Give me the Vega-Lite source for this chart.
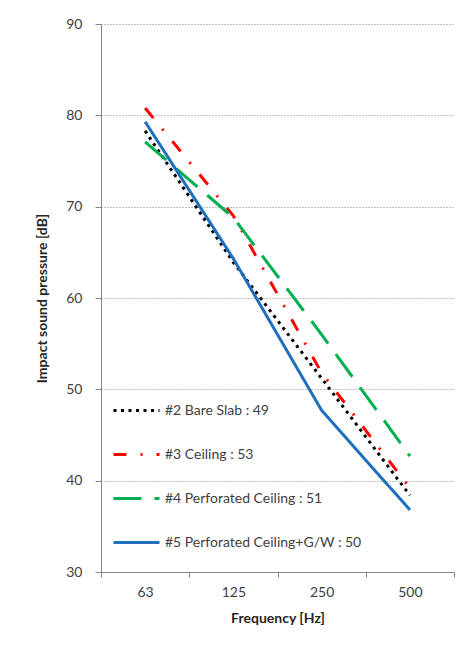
{
  "$schema": "https://vega.github.io/schema/vega-lite/v6.json",
  "autosize": {"type": "none"},
  "width": 353,
  "height": 548,
  "padding": {"left": 101, "top": 24, "right": 14, "bottom": 76},
  "background": "white",
  "data": {
    "values": [
      {"series": "#2 Bare Slab : 49", "freq": "63", "value": 78.3},
      {"series": "#2 Bare Slab : 49", "freq": "125", "value": 63.9},
      {"series": "#2 Bare Slab : 49", "freq": "250", "value": 51.2},
      {"series": "#2 Bare Slab : 49", "freq": "500", "value": 38.4},
      {"series": "#3 Ceiling : 53", "freq": "63", "value": 80.8},
      {"series": "#3 Ceiling : 53", "freq": "125", "value": 69.0},
      {"series": "#3 Ceiling : 53", "freq": "250", "value": 51.8},
      {"series": "#3 Ceiling : 53", "freq": "500", "value": 39.2},
      {"series": "#4 Perforated Ceiling : 51", "freq": "63", "value": 77.1},
      {"series": "#4 Perforated Ceiling : 51", "freq": "125", "value": 68.8},
      {"series": "#4 Perforated Ceiling : 51", "freq": "250", "value": 56.0},
      {"series": "#4 Perforated Ceiling : 51", "freq": "500", "value": 42.7},
      {"series": "#5 Perforated Ceiling+G/W : 50", "freq": "63", "value": 79.3},
      {"series": "#5 Perforated Ceiling+G/W : 50", "freq": "125", "value": 64.3},
      {"series": "#5 Perforated Ceiling+G/W : 50", "freq": "250", "value": 47.7},
      {"series": "#5 Perforated Ceiling+G/W : 50", "freq": "500", "value": 36.8}
    ]
  },
  "mark": {"type": "line", "strokeWidth": 3},
  "encoding": {
    "x": {
      "field": "freq",
      "type": "ordinal",
      "sort": ["63", "125", "250", "500"],
      "scale": {"type": "band", "paddingInner": 0, "paddingOuter": 0},
      "axis": {
        "title": "Frequency [Hz]",
        "labelAngle": 0,
        "tickBand": "extent",
        "tickSize": 5,
        "labelPadding": 8,
        "titlePadding": 12,
        "grid": false
      }
    },
    "y": {
      "field": "value",
      "type": "quantitative",
      "scale": {"domain": [30, 90], "nice": false, "zero": false},
      "axis": {
        "title": "Impact sound pressure [dB]",
        "values": [30, 40, 50, 60, 70, 80, 90],
        "tickSize": 6,
        "labelPadding": 13,
        "titlePadding": 16,
        "grid": true,
        "gridColor": "#7f7f7f",
        "gridDash": [1, 2],
        "gridWidth": 1
      }
    },
    "color": {
      "field": "series",
      "type": "nominal",
      "scale": {
        "domain": ["#2 Bare Slab : 49", "#3 Ceiling : 53", "#4 Perforated Ceiling : 51", "#5 Perforated Ceiling+G/W : 50"],
        "range": ["#000000", "#ff0000", "#00b050", "#1f6fbf"]
      },
      "legend": {
        "title": null,
        "orient": "none",
        "legendX": 11,
        "legendY": 362,
        "symbolType": "stroke",
        "symbolSize": 2116,
        "symbolStrokeWidth": 3,
        "rowPadding": 12,
        "labelFont": "Lato",
        "labelFontSize": 14,
        "labelColor": "#404040",
        "labelOffset": 4,
        "labelLimit": 300
      }
    },
    "strokeDash": {
      "field": "series",
      "type": "nominal",
      "scale": {
        "domain": ["#2 Bare Slab : 49", "#3 Ceiling : 53", "#4 Perforated Ceiling : 51", "#5 Perforated Ceiling+G/W : 50"],
        "range": [[3, 4.5], [13, 14, 2, 14], [28, 13], [1, 0]]
      },
      "legend": {
        "title": null,
        "orient": "none",
        "legendX": 11,
        "legendY": 362,
        "symbolType": "stroke",
        "symbolSize": 2116,
        "symbolStrokeWidth": 3,
        "rowPadding": 12,
        "labelFont": "Lato",
        "labelFontSize": 14,
        "labelColor": "#404040",
        "labelOffset": 4,
        "labelLimit": 300
      }
    }
  },
  "config": {
    "view": {"stroke": null},
    "axis": {
      "domainColor": "#868686",
      "tickColor": "#868686",
      "labelFont": "Lato",
      "labelFontSize": 14,
      "labelColor": "#404040",
      "titleFont": "Lato",
      "titleFontSize": 14,
      "titleFontWeight": "bold",
      "titleColor": "#262626"
    }
  }
}
